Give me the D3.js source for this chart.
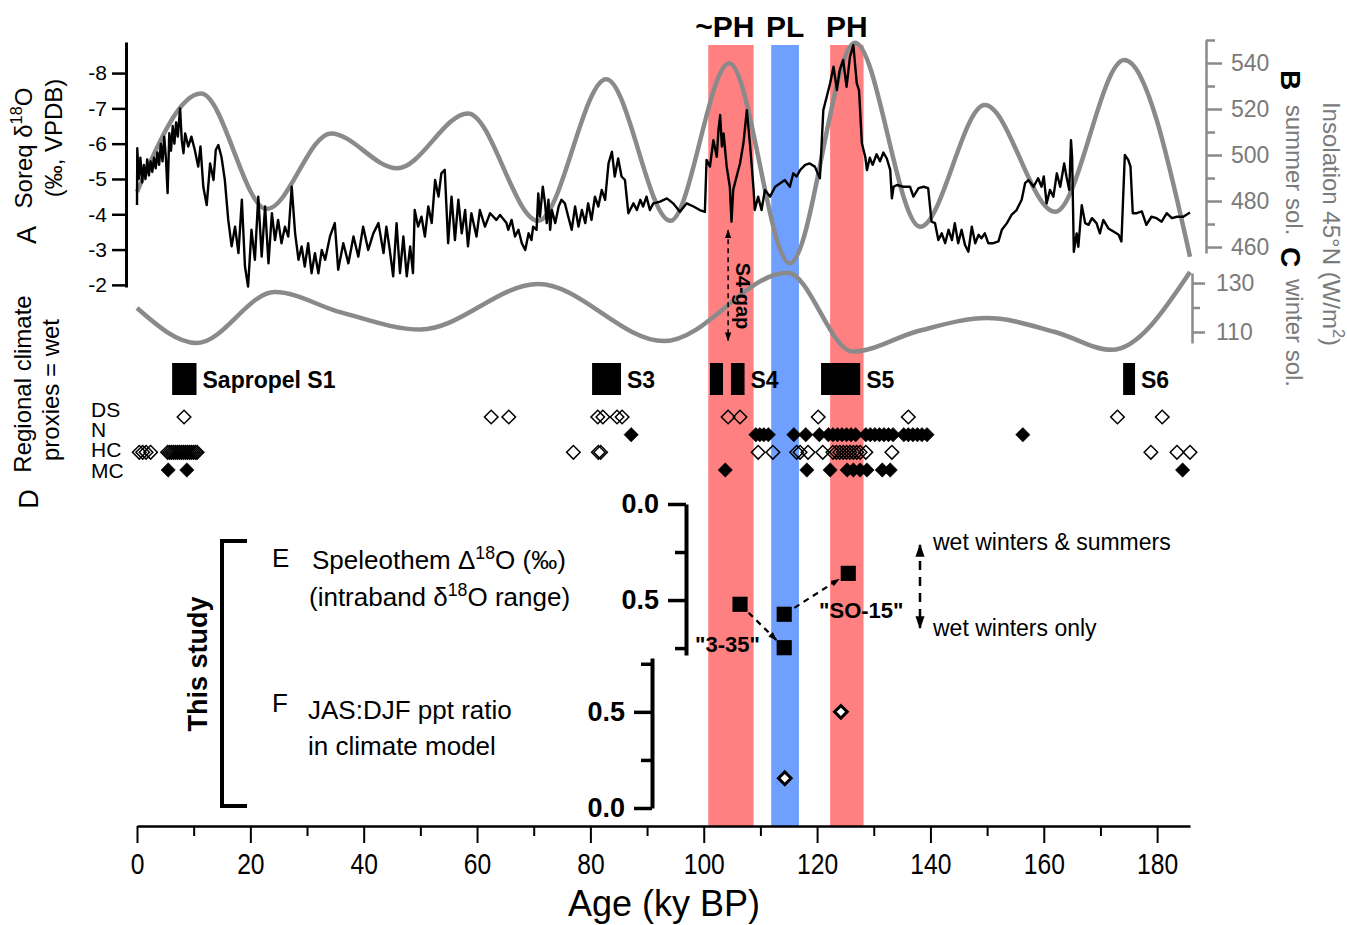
<!DOCTYPE html>
<html><head><meta charset="utf-8">
<script src="https://cdn.jsdelivr.net/npm/d3@7"></script>
<style>body{margin:0;background:#fff}svg{display:block}text{font-family:"Liberation Sans",Arial,Helvetica,sans-serif}</style>
</head><body><svg id="c" width="1347" height="925"></svg>
<script>
// ---------------- DATA ----------------
// Soreq Cave speleothem d18O record (age ky BP, permil VPDB)
const soreq = [[0.0,-4.26],[0.05,-5.87],[0.3,-5.0],[0.6,-5.6],[0.9,-4.9],[1.2,-5.4],[1.5,-5.0],[1.8,-5.55],[2.1,-5.1],[2.4,-5.5],[2.7,-5.2],[3.0,-5.6],[3.3,-5.3],[3.6,-5.75],[3.9,-5.4],[4.2,-6.0],[4.5,-5.5],[4.8,-6.2],[5.1,-5.6],[5.4,-4.6],[5.7,-6.3],[6.0,-5.8],[6.3,-6.5],[6.6,-6.0],[6.9,-6.6],[7.2,-6.2],[7.6,-7.0],[7.9,-6.1],[8.2,-5.73],[8.5,-6.29],[9.05,-5.92],[9.6,-6.2],[10.2,-5.82],[10.8,-5.35],[11.2,-5.92],[11.7,-4.78],[12.3,-4.26],[12.9,-5.44],[13.5,-4.97],[13.9,-5.82],[14.35,-5.96],[14.9,-5.63],[15.5,-4.97],[16.1,-3.84],[16.7,-3.09],[17.3,-3.65],[17.9,-2.9],[18.5,-4.41],[19.05,-2.52],[19.6,-1.95],[20.2,-3.56],[20.8,-2.71],[21.4,-4.5],[22.0,-2.8],[22.6,-4.22],[23.2,-2.61],[23.8,-4.03],[24.35,-3.27],[24.9,-3.84],[25.5,-3.18],[26.1,-3.65],[26.7,-3.37],[27.3,-4.78],[27.9,-3.46],[28.5,-2.71],[29.05,-3.09],[29.6,-2.52],[30.2,-3.18],[30.8,-2.33],[31.4,-2.9],[32.0,-2.33],[32.6,-2.99],[33.2,-2.71],[34.05,-3.37],[34.9,-3.75],[35.5,-2.43],[36.4,-3.18],[37.3,-2.61],[38.2,-3.37],[39.05,-2.8],[39.9,-3.65],[40.8,-2.99],[41.7,-3.46],[42.6,-3.75],[43.5,-2.9],[44.0,-3.65],[44.6,-2.99],[45.2,-2.24],[45.8,-3.75],[46.4,-2.33],[47.0,-3.37],[47.6,-2.24],[48.2,-3.09],[48.7,-2.33],[49.0,-4.12],[49.6,-3.65],[50.2,-3.93],[50.8,-3.37],[51.4,-4.22],[52.0,-3.75],[52.6,-4.97],[53.2,-4.5],[53.7,-5.16],[54.3,-5.26],[54.9,-3.18],[55.5,-4.5],[56.1,-3.27],[56.7,-4.41],[57.3,-3.46],[57.9,-4.12],[58.4,-3.09],[59.0,-4.03],[59.9,-3.37],[60.5,-4.12],[61.4,-3.65],[62.3,-4.03],[63.4,-3.84],[64.06,-3.98],[65.2,-3.75],[65.5,-3.56],[66.1,-3.84],[66.7,-3.37],[67.3,-3.56],[67.9,-3.18],[68.5,-2.99],[69.1,-3.46],[69.6,-3.27],[69.9,-3.65],[70.5,-3.56],[70.8,-4.59],[71.1,-3.93],[71.6,-4.78],[72.0,-4.31],[72.3,-3.75],[72.6,-4.41],[72.9,-3.56],[73.2,-4.12],[73.8,-3.75],[74.4,-4.22],[74.9,-4.41],[75.5,-4.31],[76.1,-3.93],[76.7,-3.56],[77.3,-4.22],[77.9,-3.65],[78.5,-4.12],[79.1,-3.75],[79.6,-4.31],[80.2,-3.84],[80.8,-4.5],[81.4,-4.22],[82.0,-4.69],[82.6,-4.41],[83.2,-5.44],[83.8,-5.77],[84.3,-5.07],[84.9,-5.58],[85.5,-5.07],[86.1,-4.97],[86.7,-4.03],[87.6,-4.31],[88.2,-4.12],[88.8,-4.41],[89.3,-4.22],[89.9,-4.5],[90.5,-4.12],[91.1,-4.31],[92.3,-4.36],[93.5,-4.45],[94.6,-4.31],[95.8,-4.07],[97.0,-4.31],[98.2,-4.22],[99.3,-4.12],[100.2,-4.07],[100.5,-5.54],[101.1,-5.35],[101.7,-6.1],[102.3,-5.63],[102.6,-6.39],[102.9,-6.81],[103.2,-5.92],[103.5,-6.29],[104.05,-5.35],[104.6,-4.78],[104.9,-3.79],[105.2,-4.69],[105.8,-5.07],[106.4,-5.44],[107.0,-6.01],[107.6,-6.95],[108.2,-5.92],[108.8,-4.69],[109.0,-4.12],[109.6,-4.5],[110.2,-4.12],[110.8,-4.69],[111.7,-4.5],[112.6,-4.78],[113.5,-4.88],[114.3,-4.97],[115.2,-4.78],[115.8,-5.16],[116.4,-5.07],[117.0,-5.25],[117.9,-5.4],[118.7,-5.44],[119.6,-5.35],[120.5,-5.02],[121.1,-6.95],[121.7,-7.33],[122.3,-7.71],[122.9,-8.18],[123.5,-7.52],[124.0,-8.09],[124.6,-8.37],[125.2,-7.61],[125.8,-8.46],[126.4,-8.79],[127.0,-7.71],[127.4,-7.52],[127.9,-6.01],[128.5,-5.63],[128.8,-5.25],[129.3,-5.6],[129.8,-5.4],[130.5,-5.7],[131.1,-5.5],[131.7,-5.75],[132.3,-5.58],[132.9,-5.26],[133.2,-4.45],[133.5,-4.78],[134.1,-4.83],[135.2,-4.78],[136.4,-4.78],[137.0,-4.5],[137.9,-4.74],[138.8,-4.78],[139.6,-4.74],[140.2,-3.79],[140.8,-3.75],[141.4,-3.27],[142.0,-3.46],[142.6,-3.18],[143.2,-3.56],[143.8,-3.27],[144.3,-3.75],[144.9,-3.18],[145.5,-3.56],[146.1,-3.13],[146.7,-2.94],[147.3,-3.65],[147.9,-3.18],[148.5,-3.42],[149.0,-3.32],[149.6,-3.46],[150.2,-3.18],[151.1,-3.18],[152.0,-3.23],[152.6,-3.56],[153.5,-3.75],[154.3,-3.98],[155.2,-4.12],[156.1,-4.41],[156.7,-4.88],[157.3,-4.97],[158.2,-4.78],[159.0,-5.02],[159.6,-4.78],[160.0,-5.07],[160.5,-4.31],[161.1,-4.69],[161.7,-4.5],[162.3,-5.16],[162.9,-4.78],[163.6,-5.44],[164.0,-5.07],[164.5,-4.69],[164.8,-6.1],[165.0,-5.63],[165.3,-2.94],[165.8,-3.46],[166.1,-3.08],[166.7,-4.26],[167.3,-3.75],[167.9,-3.7],[168.5,-3.89],[169.3,-3.75],[169.9,-3.46],[170.5,-3.84],[171.4,-3.6],[172.3,-3.51],[173.2,-3.42],[173.7,-3.23],[174.3,-5.68],[174.9,-5.54],[175.3,-5.35],[175.7,-4.03],[176.4,-4.03],[177.3,-4.08],[178.1,-3.7],[179.0,-3.93],[179.9,-3.89],[180.8,-3.79],[181.7,-4.03],[182.6,-3.89],[183.5,-3.93],[184.6,-3.93],[185.8,-4.05]];

// 45N summer-solstice insolation (W/m2)
const summerSol = [[0,484],[11.3,526.7],[22.9,476.5],[34.2,509.4],[45.9,494.2],[58.4,518.1],[70.8,471.4],[82.8,532.9],[94.1,471.4],[104.5,539.9],[115.2,452.9],[126.7,548.8],[138.2,468.8],[149.6,521.7],[162.0,475.3],[174.2,541.3],[185.8,455.8]];
// 45N winter-solstice insolation (W/m2)
const winterSol = [[0,119.8],[10.6,105.5],[24.3,126.3],[36,118],[50,111],[70.8,129.6],[93,106.3],[114.8,134.2],[126.3,102],[138,110.5],[150,115.7],[162,110],[172,102.7],[185.8,134.5]];

// Insolation-forcing intervals
const bandNames = ["~PH","PL","PH"];
const bandStart = [100.8,111.9,122.3];
const bandEnd   = [108.8,116.8,128.2];

// Sapropels
const sapNames = ["Sapropel S1","S3","","S4","S5","S6"];
const sapStart = [6.2,80.3,101.1,104.8,120.7,174.0];
const sapEnd   = [10.5,85.4,103.4,107.2,127.6,176.1];

// Regional proxies indicating wet conditions
const proxyRows = ["DS","N","HC","MC"];
const dsAges = [8.3,62.5,65.6,81.3,82.2,84.7,85.6,104.3,106.4,120.2,136.1,173.0,180.9];
const nAges  = [87.2,109.2,109.9,110.6,111.4,115.9,118.0,120.4,122.0,122.8,123.6,124.4,125.2,126.0,126.8,128.6,129.4,130.2,131.0,131.8,132.6,133.4,135.3,136.1,136.9,137.7,138.5,139.4,156.3];
const hcAges = [0.4,1.0,1.6,2.4,5.4,5.75,6.1,6.45,6.8,7.15,7.5,7.85,8.2,8.55,8.9,9.25,9.6,9.95,10.3,10.6,77.0,81.4,81.8,109.6,112.2,116.4,117.0,118.4,121.0,122.8,123.4,124.0,124.6,125.2,125.8,126.4,127.0,127.6,128.6,133.2,178.9,183.5,185.8];
const mcAges = [5.5,8.8,103.8,118.2,122.3,125.3,126.4,127.6,128.8,131.5,132.9,184.5];

// E: speleothem intraband d18O range
const speleoAge = [106.4,114.2,114.2,125.5];
const speleoRange = [0.522,0.574,0.748,0.361];
const speleoLinks = [[0,2,'"3-35"'],[1,3,'"SO-15"']];
// F: JAS:DJF ppt ratio in model
const modelAge = [114.3,124.2];
const modelRatio = [0.155,0.5];

// tick values
const xMajor = [0,20,40,60,80,100,120,140,160,180];
const xMinor = [10,30,50,70,90,110,130,150,170];
const aTicks = [-8,-7,-6,-5,-4,-3,-2];
const bTicks = [460,480,500,520,540];
const bMinor = [470,490,510,530,550];
const cTicks = [110,130];
const cMinor = [120];
const efTicks = [0,0.5];
const efMinor = [0.25,0.75];

// ---------------- DRAW ----------------
const svg = d3.select("#c");
const GRAY = "#8a8a8a";
const x  = d3.scaleLinear().domain([0,185.8]).range([137,1190]);
const yA = d3.scaleLinear().domain([-8.88,-1.94]).range([42,287]);
const yB = d3.scaleLinear().domain([457.4,550]).range([253,40]);
const yC = d3.scaleLinear().domain([105.5,134.1]).range([343,273]);
const yRow = d3.scalePoint().domain(proxyRows).range([417,470]);
const yE = d3.scaleLinear().domain([0,0.786]).range([504,655]);
const yF = d3.scaleLinear().domain([0,0.78]).range([808,658]);

const defs = svg.append("defs");
function marker(id,w){defs.append("marker").attr("id",id).attr("viewBox","0 0 10 10").attr("refX",9).attr("refY",5)
  .attr("markerUnits","userSpaceOnUse").attr("markerWidth",w).attr("markerHeight",w).attr("orient","auto-start-reverse")
  .append("path").attr("d","M0,1.5 L10,5 L0,8.5 z").attr("fill","#000");}
marker("ah",9); marker("ahb",13);

// bands
const bands = bandNames.map((n,i)=>({n,s:bandStart[i],e:bandEnd[i]}));
svg.append("g").selectAll("rect").data(bands).join("rect")
  .attr("x",d=>x(d.s)).attr("width",d=>x(d.e)-x(d.s)).attr("y",45).attr("height",826-45)
  .attr("fill",d=>d.n==="PL"?"#70a0ff":"#ff8080");
svg.append("g").selectAll("text").data(bands).join("text")
  .attr("x",d=>x((d.s+d.e)/2)+(d.n==="~PH"?-6:0)).attr("y",37).attr("text-anchor","middle")
  .attr("font-size",30).attr("font-weight","bold").text(d=>d.n);

// insolation curves
svg.append("path").datum(summerSol).attr("fill","none").attr("stroke",GRAY).attr("stroke-width",4.5)
  .attr("d",d3.line().curve(d3.curveMonotoneX).x(d=>x(d[0])).y(d=>yB(d[1])));
svg.append("path").datum(winterSol).attr("fill","none").attr("stroke",GRAY).attr("stroke-width",4.5)
  .attr("d",d3.line().curve(d3.curveMonotoneX).x(d=>x(d[0])).y(d=>yC(d[1])));
// Soreq
svg.append("path").datum(soreq).attr("fill","none").attr("stroke","#000").attr("stroke-width",2.4).attr("stroke-linejoin","round")
  .attr("d",d3.line().x(d=>x(d[0])).y(d=>yA(d[1])));

// axes
function styleAxis(g,col,dw,tw){g.select(".domain").attr("stroke",col).attr("stroke-width",dw);
  g.selectAll(".tick line").attr("stroke",col).attr("stroke-width",tw);}
// A axis
const gA = svg.append("g").attr("transform","translate(126,0)")
  .call(d3.axisLeft(yA).tickValues(aTicks).tickSize(14).tickSizeOuter(0).tickPadding(5).tickFormat(d=>String(d)));
styleAxis(gA,"#000",3,2.5);
gA.selectAll("text").attr("font-size",21).attr("fill","#000").attr("font-family","Liberation Sans, Arial");
// B axis
const gB = svg.append("g").attr("transform","translate(1206,0)")
  .call(d3.axisRight(yB).tickValues(bTicks).tickSize(16).tickSizeOuter(0).tickPadding(9).tickFormat(d=>String(d)));
styleAxis(gB,GRAY,2.5,2.5);
gB.selectAll("text").attr("font-size",23).attr("fill","#7a7a7a").attr("font-family","Liberation Sans, Arial");
const gBm = svg.append("g").attr("transform","translate(1206,0)")
  .call(d3.axisRight(yB).tickValues(bMinor).tickSize(9).tickSizeOuter(0).tickFormat(""));
gBm.select(".domain").remove(); gBm.selectAll(".tick line").attr("stroke",GRAY).attr("stroke-width",2.5);
// C axis
const gC = svg.append("g").attr("transform","translate(1192,0)")
  .call(d3.axisRight(yC).tickValues(cTicks).tickSize(13).tickSizeOuter(0).tickPadding(11).tickFormat(d=>String(d)));
styleAxis(gC,GRAY,2.5,2.5);
gC.selectAll("text").attr("font-size",23).attr("fill","#7a7a7a").attr("font-family","Liberation Sans, Arial");
const gCm = svg.append("g").attr("transform","translate(1192,0)")
  .call(d3.axisRight(yC).tickValues(cMinor).tickSize(8).tickSizeOuter(0).tickFormat(""));
gCm.select(".domain").remove(); gCm.selectAll(".tick line").attr("stroke",GRAY).attr("stroke-width",2.5);
// X axis
const gX = svg.append("g").attr("transform","translate(0,826)")
  .call(d3.axisBottom(x).tickValues(xMajor).tickSize(17).tickSizeOuter(0).tickPadding(10).tickFormat(d=>String(d)));
styleAxis(gX,"#000",2.5,2);
gX.selectAll("text").attr("font-size",29).attr("fill","#000").attr("transform","scale(0.85,1)").attr("font-family","Liberation Sans, Arial");
const gXm = svg.append("g").attr("transform","translate(0,826)")
  .call(d3.axisBottom(x).tickValues(xMinor).tickSize(10).tickSizeOuter(0).tickFormat(""));
gXm.select(".domain").remove(); gXm.selectAll(".tick line").attr("stroke","#000").attr("stroke-width",2);
svg.append("text").attr("x",664).attr("y",916).attr("text-anchor","middle").attr("font-size",36).text("Age (ky BP)");

// E and F axes
function efAxis(scale,ax){
  const g = svg.append("g").attr("transform",`translate(${ax},0)`)
    .call(d3.axisLeft(scale).tickValues(efTicks).tickSize(18).tickSizeOuter(0).tickPadding(9).tickFormat(d3.format(".1f")));
  styleAxis(g,"#000",4,3.5);
  g.selectAll("text").attr("font-size",27).attr("font-weight","bold").attr("fill","#000").attr("font-family","Liberation Sans, Arial");
  const m = svg.append("g").attr("transform",`translate(${ax},0)`)
    .call(d3.axisLeft(scale).tickValues(efMinor).tickSize(11).tickSizeOuter(0).tickFormat(""));
  m.select(".domain").remove(); m.selectAll(".tick line").attr("stroke","#000").attr("stroke-width",3.5);
}
efAxis(yE,686); efAxis(yF,652);

// sapropels
const saps = sapNames.map((n,i)=>({n,s:sapStart[i],e:sapEnd[i]}));
svg.append("g").selectAll("rect").data(saps).join("rect")
  .attr("x",d=>x(d.s)).attr("width",d=>x(d.e)-x(d.s)).attr("y",363).attr("height",32).attr("fill","#000");
svg.append("g").selectAll("text").data(saps.filter(d=>d.n)).join("text")
  .attr("x",d=>x(d.e)+6).attr("y",388).attr("font-size",23).attr("font-weight","bold").text(d=>d.n);

// proxy rows
svg.append("g").selectAll("text").data(proxyRows).join("text")
  .attr("x",91).attr("y",(d,i)=>[417,437,457,478][i]).attr("font-size",21).text(d=>d);
const openSym = d3.symbol(d3.symbolSquare,92)();
const fillSym = d3.symbol(d3.symbolSquare,104)();
function diamonds(ages,row,filled){
  svg.append("g").selectAll("path").data(ages).join("path")
    .attr("transform",d=>`translate(${x(d)},${yRow(row)}) rotate(45)`)
    .attr("d",filled?fillSym:openSym)
    .attr("fill",filled?"#000":"none").attr("stroke","#000").attr("stroke-width",filled?0.5:1.5);
}
diamonds(dsAges,"DS",false); diamonds(nAges,"N",true); diamonds(hcAges,"HC",false); diamonds(mcAges,"MC",true);

// S4-gap annotation
const gapX = x(104.3);
svg.append("line").attr("x1",gapX).attr("x2",gapX).attr("y1",yA(-3.55)).attr("y2",yC(106.5))
  .attr("stroke","#000").attr("stroke-width",1.5).attr("stroke-dasharray","5,4")
  .attr("marker-start","url(#ah)").attr("marker-end","url(#ah)");

// E points and links
const ePts = speleoAge.map((a,i)=>({px:x(a),py:yE(speleoRange[i])}));
speleoLinks.forEach(([i,j])=>{
  const a=ePts[i], b=ePts[j]; const dx=b.px-a.px, dy=b.py-a.py, L=Math.hypot(dx,dy);
  const s=12/L, e=11/L;
  svg.append("line").attr("x1",a.px+dx*s).attr("y1",a.py+dy*s).attr("x2",b.px-dx*e).attr("y2",b.py-dy*e)
    .attr("stroke","#000").attr("stroke-width",2.2).attr("stroke-dasharray","6,5").attr("marker-end","url(#ah)");
});
svg.append("g").selectAll("path").data(ePts).join("path")
  .attr("transform",d=>`translate(${d.px},${d.py})`).attr("d",d3.symbol(d3.symbolSquare,230)()).attr("fill","#000");
svg.append("text").attr("x",x(104.2)).attr("y",652).attr("text-anchor","middle").attr("font-size",22).attr("font-weight","bold").text(speleoLinks[0][2]);
svg.append("text").attr("x",x(127.8)).attr("y",618).attr("text-anchor","middle").attr("font-size",22).attr("font-weight","bold").text(speleoLinks[1][2]);
// F points
svg.append("g").selectAll("path").data(modelAge).join("path")
  .attr("transform",(d,i)=>`translate(${x(d)},${yF(modelRatio[i])}) rotate(45)`)
  .attr("d",d3.symbol(d3.symbolSquare,80)()).attr("fill","#fff").attr("stroke","#000").attr("stroke-width",3);

// wet arrows
svg.append("line").attr("x1",920).attr("x2",920).attr("y1",545).attr("y2",628)
  .attr("stroke","#000").attr("stroke-width",2.5).attr("stroke-dasharray","9,7")
  .attr("marker-start","url(#ahb)").attr("marker-end","url(#ahb)");
svg.append("text").attr("x",933).attr("y",550).attr("font-size",23).text("wet winters & summers");
svg.append("text").attr("x",933).attr("y",636).attr("font-size",23).text("wet winters only");

// text helper
function rtext(tx,ty,ang,parts,size,o={}){
  const t = svg.append("text").attr("transform",`translate(${tx},${ty}) rotate(${ang})`)
    .attr("text-anchor",o.anchor||"middle").attr("font-size",size).attr("fill",o.fill||"#000")
    .attr("font-weight",o.weight||"normal");
  let back=0;
  parts.forEach(p=>{const s=t.append("tspan").text(p.t);
    if(p.sup){s.attr("font-size",size*0.68).attr("dy",-size*0.4);back=size*0.4;}
    else if(back){s.attr("dy",back);back=0;}});
  return t;
}
// left labels
rtext(36,235,-90,[{t:"A"}],27);
rtext(32,148,-90,[{t:"Soreq δ"},{t:"18",sup:true},{t:"O"}],24);
rtext(62,138,-90,[{t:"(‰, VPDB)"}],24);
rtext(38,499,-90,[{t:"D"}],27);
rtext(31,384,-90,[{t:"Regional climate"}],24);
rtext(59,390,-90,[{t:"proxies = wet"}],24);
// right labels
rtext(1281,80,90,[{t:"B"}],28,{weight:"bold"});
rtext(1286,170,90,[{t:"summer sol."}],24,{fill:"#7a7a7a"});
rtext(1281,257,90,[{t:"C"}],28,{weight:"bold"});
rtext(1286,333,90,[{t:"winter sol."}],24,{fill:"#7a7a7a"});
rtext(1323,224,90,[{t:"Insolation 45°N (W/m"},{t:"2",sup:true},{t:")"}],24,{fill:"#7a7a7a"});
rtext(736,296,90,[{t:"S4-gap"}],20,{weight:"bold"});
// this study
rtext(207,664,-90,[{t:"This study"}],27,{weight:"bold"});
svg.append("path").attr("d","M247,541 H222 V806 H247").attr("fill","none").attr("stroke","#000").attr("stroke-width",4);
// E/F labels
rtext(272,567,0,[{t:"E"}],26,{anchor:"start"});
rtext(312,569,0,[{t:"Speleothem Δ"},{t:"18",sup:true},{t:"O (‰)"}],26,{anchor:"start"});
rtext(309,606,0,[{t:"(intraband δ"},{t:"18",sup:true},{t:"O range)"}],26,{anchor:"start"});
rtext(272,712,0,[{t:"F"}],26,{anchor:"start"});
rtext(308,719,0,[{t:"JAS:DJF ppt ratio"}],26,{anchor:"start"});
rtext(308,755,0,[{t:"in climate model"}],26,{anchor:"start"});
</script></body></html>
